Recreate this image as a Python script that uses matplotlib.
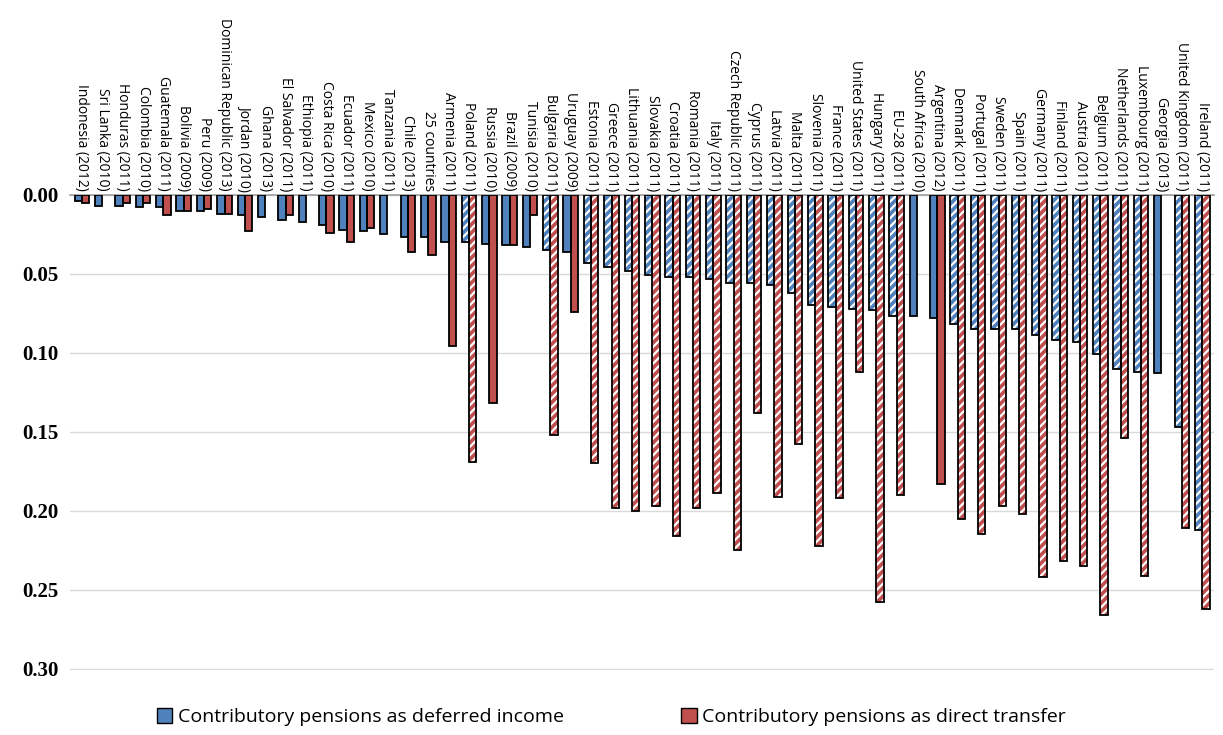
import matplotlib
matplotlib.use("Agg")
import matplotlib.pyplot as plt
import matplotlib.transforms as mtransforms
from matplotlib.patches import Patch
import numpy as np

countries = ["Indonesia (2012)", "Sri Lanka (2010)", "Honduras (2011)", "Colombia (2010)",
             "Guatemala (2011)", "Bolivia (2009)", "Peru (2009)", "Dominican Republic (2013)",
             "Jordan (2010)", "Ghana (2013)", "El Salvador (2011)", "Ethiopia (2011)",
             "Costa Rica (2010)", "Ecuador (2011)", "Mexico (2010)", "Tanzania (2011)",
             "Chile (2013)", "25 countries", "Armenia (2011)", "Poland (2011)", "Russia (2010)",
             "Brazil (2009)", "Tunisia (2010)", "Bulgaria (2011)", "Uruguay (2009)",
             "Estonia (2011)", "Greece (2011)", "Lithuania (2011)", "Slovakia (2011)",
             "Croatia (2011)", "Romania (2011)", "Italy (2011)", "Czech Republic (2011)",
             "Cyprus (2011)", "Latvia (2011)", "Malta (2011)", "Slovenia (2011)", "France (2011)",
             "United States (2011)", "Hungary (2011)", "EU-28 (2011)", "South Africa (2010)",
             "Argentina (2012)", "Denmark (2011)", "Portugal (2011)", "Sweden (2011)",
             "Spain (2011)", "Germany (2011)", "Finland (2011)", "Austria (2011)",
             "Belgium (2011)", "Netherlands (2011)", "Luxembourg (2011)", "Georgia (2013)",
             "United Kingdom (2011)", "Ireland (2011)"]

deferred = [0.004, 0.007, 0.007, 0.008, 0.008, 0.010, 0.010, 0.012, 0.013, 0.014, 0.016, 0.017,
            0.019, 0.022, 0.023, 0.025, 0.027, 0.027, 0.030, 0.030, 0.031, 0.032, 0.033, 0.035,
            0.036, 0.043, 0.046, 0.048, 0.051, 0.052, 0.052, 0.053, 0.056, 0.056, 0.057, 0.062,
            0.070, 0.071, 0.072, 0.073, 0.077, 0.077, 0.078, 0.082, 0.085, 0.085, 0.085, 0.089,
            0.092, 0.093, 0.101, 0.110, 0.112, 0.113, 0.147, 0.212]

direct = [0.005, 0.0, 0.005, 0.005, 0.013, 0.010, 0.009, 0.012, 0.023, 0.0, 0.013, 0.0,
          0.024, 0.030, 0.021, 0.0, 0.036, 0.038, 0.096, 0.169, 0.132, 0.032, 0.013, 0.152,
          0.074, 0.170, 0.198, 0.200, 0.197, 0.216, 0.198, 0.189, 0.225, 0.138, 0.191, 0.158,
          0.222, 0.192, 0.112, 0.258, 0.190, 0.0, 0.183, 0.205, 0.215, 0.197, 0.202, 0.242,
          0.232, 0.235, 0.266, 0.154, 0.241, 0.0, 0.211, 0.262]

# countries drawn with the striped fill
hatched = ["Poland (2011)", "Bulgaria (2011)", "Estonia (2011)", "Greece (2011)",
           "Lithuania (2011)", "Slovakia (2011)", "Croatia (2011)", "Romania (2011)",
           "Italy (2011)", "Czech Republic (2011)", "Cyprus (2011)", "Latvia (2011)",
           "Malta (2011)", "Slovenia (2011)", "France (2011)", "United States (2011)",
           "Hungary (2011)", "EU-28 (2011)", "Denmark (2011)", "Portugal (2011)",
           "Sweden (2011)", "Spain (2011)", "Germany (2011)", "Finland (2011)",
           "Austria (2011)", "Belgium (2011)", "Netherlands (2011)", "Luxembourg (2011)",
           "United Kingdom (2011)", "Ireland (2011)"]

BLUE = "#4f81bd"
RED = "#c0504d"
plt.rcParams["hatch.linewidth"] = 1.6

fig = plt.figure(figsize=(12.23, 7.35), dpi=100)
ax = fig.add_axes([0.057, 0.088, 0.936, 0.647])

x = np.arange(len(countries))
w = 0.36
for vals, off, col in [(deferred, -w / 2, BLUE), (direct, w / 2, RED)]:
    for i, c in enumerate(countries):
        v = vals[i]
        if v == 0:
            continue
        if c in hatched:
            ax.bar(x[i] + off, v, w, color=col, edgecolor="white", hatch="////", linewidth=0, zorder=2)
        else:
            ax.bar(x[i] + off, v, w, color=col, linewidth=0, zorder=2)
        ax.bar(x[i] + off, v, w, fill=False, edgecolor="black", linewidth=1.3, zorder=3)

ax.set_ylim(0.301, 0)
ax.set_xlim(-0.6, len(countries) - 0.4)
ax.set_yticks(np.arange(0, 0.31, 0.05))
ax.set_yticklabels([f"{t:.2f}" for t in np.arange(0, 0.31, 0.05)],
                   fontfamily="Liberation Serif", fontweight="bold", fontsize=15)
ax.grid(axis="y", color="#d9d9d9", linewidth=1, zorder=0)
ax.set_xticks([])
ax.tick_params(axis="y", length=0, pad=8)
for s in ["left", "right", "bottom"]:
    ax.spines[s].set_visible(False)
ax.spines["top"].set_color("#a0a0a0")
ax.spines["top"].set_linewidth(1.2)

trans = mtransforms.blended_transform_factory(ax.transData, ax.transAxes)
for i, c in enumerate(countries):
    ax.text(x[i], 1.008, c, transform=trans, rotation=270, rotation_mode="anchor",
            ha="right", va="center", fontsize=10, fontfamily="Open Sans")

handles = [Patch(facecolor=BLUE, edgecolor="black", linewidth=1),
           Patch(facecolor=RED, edgecolor="black", linewidth=1)]
fig.legend(handles, ["Contributory pensions as deferred income", "Contributory pensions as direct transfer"],
           loc="lower center", bbox_to_anchor=(0.5, -0.012), ncol=2, frameon=False,
           prop={"family": "Open Sans", "size": 14}, handlelength=0.8, handleheight=0.8,
           handletextpad=0.3, columnspacing=6)

fig.savefig("out.png", dpi=100)
